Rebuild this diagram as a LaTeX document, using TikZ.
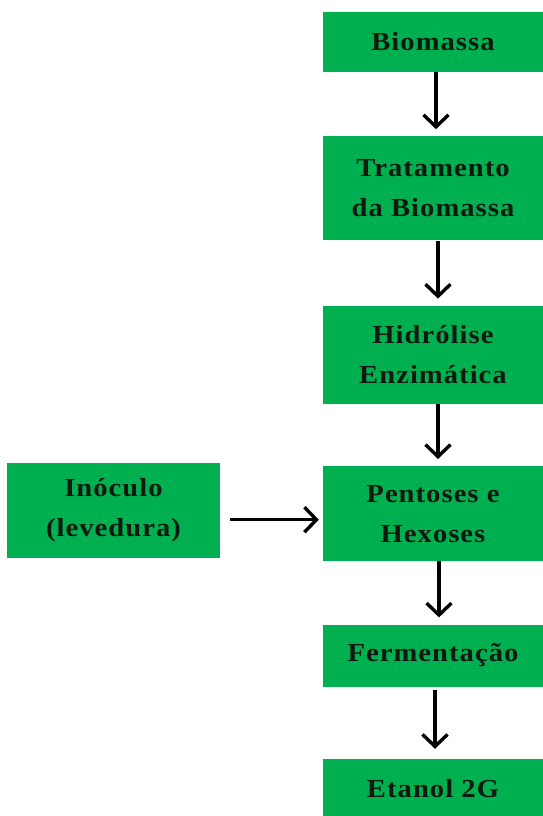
\documentclass[tikz,border=0pt]{standalone}
\usepackage{fontspec}
\usepackage{tikz}
\usetikzlibrary{arrows.meta,positioning}
\newfontfamily\stagefont[FakeStretch=1.1,LetterSpace=4]{Liberation Serif}
\definecolor{stagegreen}{RGB}{0,176,80}
\definecolor{inkdark}{RGB}{15,25,15}

\begin{document}
\begin{tikzpicture}[
    x=1pt, y=1pt,
    node distance=64pt and 90pt,
    stage/.style={fill=stagegreen, minimum width=220pt, minimum height=60pt, align=center,
        inner sep=0pt, text=inkdark, font=\stagefont\bfseries\fontsize{26}{40}\selectfont},
    tall/.style={minimum height=98pt},
    arr/.style={-{Straight Barb[length=12pt, width=25pt, line width=3.4pt]}, line width=3.4pt, black, shorten >=7pt}
]
\useasboundingbox (0,0) rectangle (543,-816);
\node[stage] (bio) at (433,-42) {Biomassa};
\node[stage, tall, minimum height=104pt, below=of bio] (trat) {Tratamento\\da Biomassa};
\node[stage, tall, below=65pt of trat] (hidro) {Hidrólise\\Enzimática};
\node[stage, tall, minimum height=95pt, below=62pt of hidro] (pent) {Pentoses e\\Hexoses};
\node[stage, minimum height=62pt, below=63pt of pent] (ferm) {Fermentação};
\node[stage, below=72pt of ferm] (etanol) {Etanol 2G};
\node[stage, tall, minimum width=213pt, minimum height=95pt] (inoc) at (113.5,-510.5) {Inóculo\\(levedura)};

\draw[arr] ([xshift=3pt]bio.south) -- ([xshift=3pt]trat.north);
\draw[arr] ([xshift=5pt]trat.south) -- ([xshift=5pt]hidro.north);
\draw[arr] ([xshift=5pt]hidro.south) -- ([xshift=5pt]pent.north);
\draw[arr] ([xshift=6pt]pent.south) -- ([xshift=6pt]ferm.north);
\draw[arr, shorten <=3pt, shorten >=10pt] ([xshift=2pt]ferm.south) -- ([xshift=2pt]etanol.north);
\draw[arr, shorten <=10pt, shorten >=4pt] ([yshift=-6pt]pent.west -| inoc.east) -- ([yshift=-6pt]pent.west);
\end{tikzpicture}
\end{document}
